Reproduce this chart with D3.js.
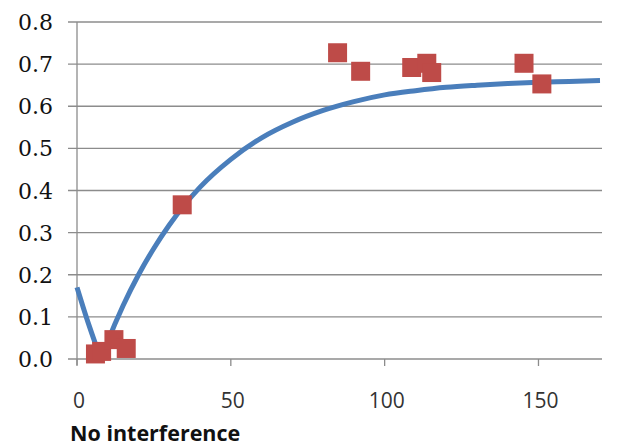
<!DOCTYPE html>
<html><head><meta charset="utf-8">
<script src="https://cdn.jsdelivr.net/npm/d3@7"></script>
<style>body{margin:0;background:#fff}svg{display:block}</style>
</head><body>
<script>
// Measured points (x, y)
const pointX = [6, 8, 12, 16, 34.2, 84.7, 92.2, 108.8, 113.7, 115.3, 145.3, 151.1];
const pointY = [0.012, 0.018, 0.046, 0.025, 0.366, 0.727, 0.683, 0.692, 0.702, 0.680, 0.702, 0.653];
// Trend curve
const curveX = [0, 2, 4, 6, 7.8, 10, 15, 20, 25, 30, 40, 50, 60, 70, 80, 90, 100, 110, 120, 130, 140, 150, 160, 170];
const curveY = [0.170, 0.123, 0.078, 0.036, 0.0, 0.042, 0.127, 0.200, 0.263, 0.318, 0.408, 0.474, 0.525, 0.562, 0.590, 0.611, 0.627, 0.637, 0.645, 0.650, 0.654, 0.657, 0.659, 0.661];
const xTicks = [0, 50, 100, 150];
const yTicks = [0, 0.1, 0.2, 0.3, 0.4, 0.5, 0.6, 0.7, 0.8];
const xTitle = "No interference";

const W = 617, H = 446;
const svg = d3.select("body").append("svg").attr("width", W).attr("height", H);
const x = d3.scaleLinear().domain([0, 170]).range([77, 600]);
const y = d3.scaleLinear().domain([0, 0.8]).range([359, 22]);

// gridlines
svg.append("g").selectAll("line").data(yTicks).join("line")
  .attr("x1", 68).attr("x2", 602)
  .attr("y1", d => y(d)).attr("y2", d => y(d))
  .attr("stroke", "#8c8c8c").attr("stroke-width", 1.3);
// y axis line
svg.append("line").attr("x1", 77).attr("x2", 77).attr("y1", y(0.8)).attr("y2", y(0) + 6)
  .attr("stroke", "#8c8c8c").attr("stroke-width", 1.3);
// x ticks
svg.append("g").selectAll("line").data(xTicks).join("line")
  .attr("x1", d => x(d)).attr("x2", d => x(d)).attr("y1", y(0)).attr("y2", y(0) + 7)
  .attr("stroke", "#8c8c8c").attr("stroke-width", 1.3);

// y labels
svg.append("g").selectAll("text").data(yTicks).join("text")
  .attr("x", 53).attr("y", d => y(d) + 8)
  .attr("text-anchor", "end")
  .attr("font-family", "DejaVu Serif").attr("font-size", 22).attr("fill", "#111")
  .text(d => d3.format(".1f")(d));
// x labels
svg.append("g").selectAll("text").data(xTicks).join("text")
  .attr("x", d => x(d) + 2).attr("y", 408)
  .attr("text-anchor", "middle")
  .attr("font-family", "Open Sans").attr("font-size", 21).attr("fill", "#333")
  .text(d => d);
svg.append("text").attr("x", 70).attr("y", 441)
  .attr("font-family", "Open Sans").attr("font-weight", "bold").attr("font-size", 21.5).attr("fill", "#111")
  .text(xTitle);

// curve
const curveData = curveX.map((d, i) => [d, curveY[i]]);
svg.append("path").datum(curveData)
  .attr("d", d3.line().x(d => x(d[0])).y(d => y(d[1])).curve(d3.curveMonotoneX))
  .attr("fill", "none").attr("stroke", "#4A7EBB").attr("stroke-width", 5);

// squares
const s = 19;
svg.append("g").selectAll("rect").data(pointX.map((d, i) => [d, pointY[i]])).join("rect")
  .attr("x", d => x(d[0]) - s / 2).attr("y", d => y(d[1]) - s / 2)
  .attr("width", s).attr("height", s).attr("fill", "#BE4B48");
</script>
</body></html>
